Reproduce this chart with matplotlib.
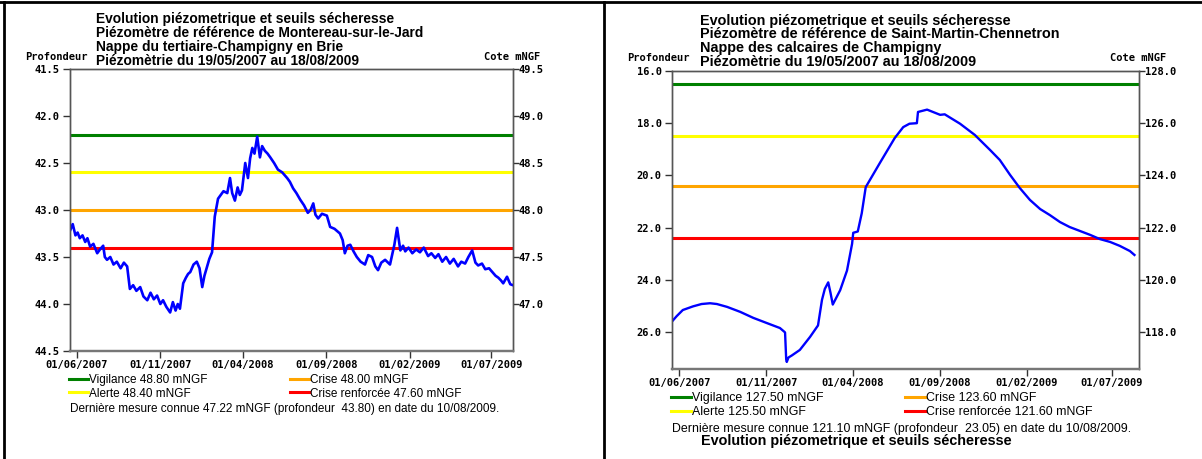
import numpy as np
import pandas as pd
import matplotlib
matplotlib.use('Agg')
import matplotlib.pyplot as plt
import matplotlib.dates as mdates
from matplotlib.lines import Line2D

## Montereau-sur-le-Jard : profondeur (m) ##
mont_dates = ['2007-05-19', '2007-05-24', '2007-05-29', '2007-06-02', '2007-06-06', '2007-06-11',
              '2007-06-16', '2007-06-20', '2007-06-25', '2007-07-01', '2007-07-08', '2007-07-13',
              '2007-07-19', '2007-07-22', '2007-07-26', '2007-08-01', '2007-08-07', '2007-08-13',
              '2007-08-20', '2007-08-26', '2007-09-01', '2007-09-06', '2007-09-12', '2007-09-18',
              '2007-09-25', '2007-10-01', '2007-10-08', '2007-10-14', '2007-10-20', '2007-10-26',
              '2007-11-01', '2007-11-06', '2007-11-12', '2007-11-19', '2007-11-24', '2007-11-29',
              '2007-12-03', '2007-12-07', '2007-12-13', '2007-12-18', '2007-12-22', '2007-12-26',
              '2008-01-01', '2008-01-07', '2008-01-12', '2008-01-17', '2008-01-21', '2008-01-26',
              '2008-01-30', '2008-02-04', '2008-02-09', '2008-02-15', '2008-02-20', '2008-02-25',
              '2008-03-03', '2008-03-08', '2008-03-12', '2008-03-17', '2008-03-22', '2008-03-26',
              '2008-03-30', '2008-04-05', '2008-04-10', '2008-04-14', '2008-04-18', '2008-04-22',
              '2008-04-27', '2008-05-02', '2008-05-06', '2008-05-11', '2008-05-16', '2008-05-21',
              '2008-05-28', '2008-06-04', '2008-06-12', '2008-06-21', '2008-06-26', '2008-07-02',
              '2008-07-08', '2008-07-15', '2008-07-22', '2008-07-29', '2008-08-03', '2008-08-08',
              '2008-08-12', '2008-08-17', '2008-08-24', '2008-09-02', '2008-09-08', '2008-09-16',
              '2008-09-26', '2008-10-01', '2008-10-05', '2008-10-10', '2008-10-15', '2008-10-21',
              '2008-10-27', '2008-11-03', '2008-11-11', '2008-11-17', '2008-11-24', '2008-11-30',
              '2008-12-05', '2008-12-11', '2008-12-18', '2008-12-27', '2009-01-04', '2009-01-09',
              '2009-01-15', '2009-01-20', '2009-01-24', '2009-01-30', '2009-02-06', '2009-02-13',
              '2009-02-20', '2009-02-27', '2009-03-07', '2009-03-13', '2009-03-20', '2009-03-26',
              '2009-04-02', '2009-04-09', '2009-04-16', '2009-04-23', '2009-05-01', '2009-05-07',
              '2009-05-14', '2009-05-20', '2009-05-27', '2009-06-02', '2009-06-07', '2009-06-14',
              '2009-06-20', '2009-06-27', '2009-07-03', '2009-07-09', '2009-07-14', '2009-07-19',
              '2009-07-23', '2009-07-30', '2009-08-05', '2009-08-10']
mont_depth = [43.22, 43.15, 43.27, 43.24, 43.30, 43.27,
              43.34, 43.30, 43.39, 43.36, 43.46, 43.42,
              43.38, 43.50, 43.53, 43.50, 43.58, 43.55,
              43.62, 43.56, 43.60, 43.84, 43.80, 43.86,
              43.82, 43.92, 43.96, 43.88, 43.95, 43.91,
              44.00, 43.96, 44.03, 44.09, 43.98, 44.07,
              44.00, 44.05, 43.78, 43.72, 43.68, 43.66,
              43.58, 43.55, 43.62, 43.82, 43.70, 43.60,
              43.52, 43.45, 43.07, 42.88, 42.84, 42.80,
              42.82, 42.66, 42.82, 42.90, 42.76, 42.84,
              42.79, 42.50, 42.66, 42.45, 42.34, 42.40,
              42.22, 42.44, 42.32, 42.37, 42.40, 42.44,
              42.50, 42.57, 42.60, 42.66, 42.70, 42.77,
              42.82, 42.89, 42.95, 43.03, 43.00, 42.93,
              43.05, 43.09, 43.04, 43.06, 43.18, 43.20,
              43.25, 43.32, 43.46, 43.38, 43.37, 43.44,
              43.50, 43.55, 43.58, 43.48, 43.50, 43.60,
              43.64, 43.56, 43.53, 43.58, 43.37, 43.19,
              43.43, 43.38, 43.44, 43.40, 43.46, 43.42,
              43.45, 43.40, 43.49, 43.46, 43.51, 43.47,
              43.55, 43.50, 43.57, 43.52, 43.60, 43.55,
              43.57, 43.50, 43.43, 43.56, 43.59, 43.57,
              43.63, 43.62, 43.66, 43.70, 43.72, 43.75,
              43.78, 43.71, 43.79, 43.80]
mont_ref = 91.0          # cote mNGF = ref - profondeur
mont_seuils = [48.80, 48.40, 48.00, 47.60]

## Saint-Martin-Chennetron : profondeur (m) ##
stm_dates = ['2007-05-19', '2007-05-27', '2007-06-07', '2007-06-25', '2007-07-10', '2007-07-25',
             '2007-08-06', '2007-08-24', '2007-09-16', '2007-10-09', '2007-11-02', '2007-11-25',
             '2007-12-02', '2007-12-04', '2007-12-06', '2007-12-07', '2007-12-10', '2007-12-16',
             '2007-12-30', '2008-01-17', '2008-01-31', '2008-02-07', '2008-02-12', '2008-02-18',
             '2008-02-22', '2008-02-26', '2008-03-10', '2008-03-22', '2008-03-31', '2008-04-02',
             '2008-04-10', '2008-04-17', '2008-04-24', '2008-05-19', '2008-06-14', '2008-06-29',
             '2008-07-10', '2008-07-23', '2008-07-25', '2008-08-10', '2008-09-02', '2008-09-10',
             '2008-10-07', '2008-11-02', '2008-11-29', '2008-12-16', '2009-01-03', '2009-01-20',
             '2009-02-07', '2009-02-25', '2009-03-14', '2009-04-01', '2009-04-18', '2009-05-06',
             '2009-05-24', '2009-06-10', '2009-06-28', '2009-07-15', '2009-08-02', '2009-08-10']
stm_depth = [25.60, 25.40, 25.16, 25.02, 24.93, 24.90,
             24.93, 25.04, 25.23, 25.46, 25.66, 25.85,
             25.98, 26.02, 27.05, 27.15, 26.98, 26.90,
             26.69, 26.19, 25.75, 24.77, 24.35, 24.10,
             24.50, 24.95, 24.40, 23.65, 22.62, 22.20,
             22.15, 21.45, 20.45, 19.52, 18.57, 18.15,
             18.02, 18.00, 17.57, 17.48, 17.68, 17.66,
             18.02, 18.45, 19.03, 19.41, 19.98, 20.48,
             20.94, 21.29, 21.52, 21.79, 21.98, 22.13,
             22.28, 22.44, 22.55, 22.70, 22.90, 23.05]
stm_ref = 144.0
stm_seuils = [127.50, 125.50, 123.60, 121.60]

seuil_noms = ['Vigilance', 'Alerte', 'Crise', 'Crise renforcée']
seuil_cols = ['#008000', '#ffff00', '#ffa500', '#ff0000']
xticks = ['2007-06-01', '2007-11-01', '2008-04-01', '2008-09-01', '2009-02-01', '2009-07-01']

W, H = 1202, 459
plt.rcParams['font.family'] = 'DejaVu Sans Mono'
plt.rcParams['font.weight'] = 'bold'

fig = plt.figure(figsize=(W / 100, H / 100), dpi=100)


def fx(x): return x / W
def fy(y): return 1 - y / H


def panel(box, dates, depth, ref, seuils, xend, ylim, yt, yt2, titles, x0, ytit, tfs,
          leg_y, lsp, csp, last, last_y, fs, lw):
    l, t, r, b = box
    ax = fig.add_axes([fx(l), fy(b), fx(r - l), (b - t) / H])
    ax.plot(pd.to_datetime(dates), depth, color='#0000ff', lw=lw, zorder=3)
    for s, nm, c in zip(seuils, seuil_noms, seuil_cols):
        ax.axhline(ref - s, color=c, lw=2.2, zorder=2, label='%s %.2f mNGF' % (nm, s))
    ax.set_xlim(pd.Timestamp('2007-05-19'), pd.Timestamp(xend))
    ax.set_ylim(ylim[1], ylim[0])
    ax.set_yticks(yt)
    ax.yaxis.set_major_formatter('{x:.1f}')
    ax.set_xticks(pd.to_datetime(xticks))
    ax.xaxis.set_major_formatter(mdates.DateFormatter('%d/%m/%Y'))
    ax.tick_params(axis='both', direction='out', length=5, width=1, labelsize=7.5, color='#333')
    ax.tick_params(axis='y', pad=2.5)
    ax.tick_params(axis='x', pad=1.5)

    ax2 = ax.twinx()
    ax2.set_ylim(ref - ylim[1], ref - ylim[0])
    ax2.set_yticks(yt2)
    ax2.yaxis.set_major_formatter('{x:.1f}')
    ax2.tick_params(axis='y', direction='out', length=4, width=1, labelsize=7.5, pad=0, color='#333')
    for a in (ax, ax2):
        for sp in a.spines.values():
            sp.set_color('#555')
            sp.set_linewidth(1.0)
        a.spines['bottom'].set_linewidth(1.6)
        a.spines['bottom'].set_color('#777')

    # titre
    for i, tt in enumerate(titles):
        fig.text(fx(x0), fy(ytit + 13.7 * i), tt, family='Liberation Sans', weight='bold',
                 fontsize=tfs, va='center', ha='left')
    fig.text(fx(l - 45), fy(ytit + 37.5), 'Profondeur', fontsize=7.5, va='center', ha='left')
    fig.text(fx(r - 29), fy(ytit + 37.5), 'Cote mNGF', fontsize=7.5, va='center', ha='left')

    # légende
    fig.legend(*ax.get_legend_handles_labels(), ncol=2, loc='upper left',
               bbox_to_anchor=(fx(l - 1), fy(leg_y)), frameon=False, borderpad=0,
               borderaxespad=0, handlelength=1.6, handletextpad=0.12, labelspacing=lsp,
               columnspacing=csp, prop=dict(family='Liberation Sans', size=fs, weight='normal'))
    fig.text(fx(l), fy(last_y), last, family='Liberation Sans', fontsize=fs,
             weight='normal', va='center', ha='left')
    return ax


panel((70, 69, 513, 351), mont_dates, mont_depth, mont_ref, mont_seuils, '2009-08-10',
      (41.5, 44.5), np.arange(41.5, 44.51, 0.5), np.arange(47.0, 49.51, 0.5),
      ['Evolution piézometrique et seuils sécheresse',
       'Piézomètre de référence de Montereau-sur-le-Jard',
       'Nappe du tertiaire-Champigny en Brie',
       'Piézomètrie du 19/05/2007 au 18/08/2009'],
      96, 19.5, 9.9, 374, 0.13, 6.95,
      'Dernière mesure connue 47.22 mNGF (profondeur  43.80) en date du 10/08/2009.', 409,
      8.5, 1.9)

panel((672, 71, 1139, 369), stm_dates, stm_depth, stm_ref, stm_seuils, '2009-08-18',
      (16.0, 27.42), np.arange(16.0, 26.1, 2.0), np.arange(118.0, 128.1, 2.0),
      ['Evolution piézometrique et seuils sécheresse',
       'Piézomètre de référence de Saint-Martin-Chennetron',
       'Nappe des calcaires de Champigny',
       'Piézomètrie du 19/05/2007 au 18/08/2009'],
      700, 20.5, 10.4, 392, 0.2, 6.55,
      'Dernière mesure connue 121.10 mNGF (profondeur  23.05) en date du 10/08/2009.', 429,
      8.9, 1.7)

fig.text(fx(701), fy(441), 'Evolution piézometrique et seuils sécheresse', family='Liberation Sans',
         weight='bold', fontsize=10.4, va='center', ha='left')

# cadres
for xs, ys in [((fx(0), fx(W)), (fy(1.5), fy(1.5))),
               ((fx(4), fx(4)), (fy(H), fy(1.5))),
               ((fx(604), fx(604)), (fy(H), fy(1.5)))]:
    fig.add_artist(Line2D(xs, ys, color='black', lw=2.0))

fig.savefig('out.png', dpi=100)
